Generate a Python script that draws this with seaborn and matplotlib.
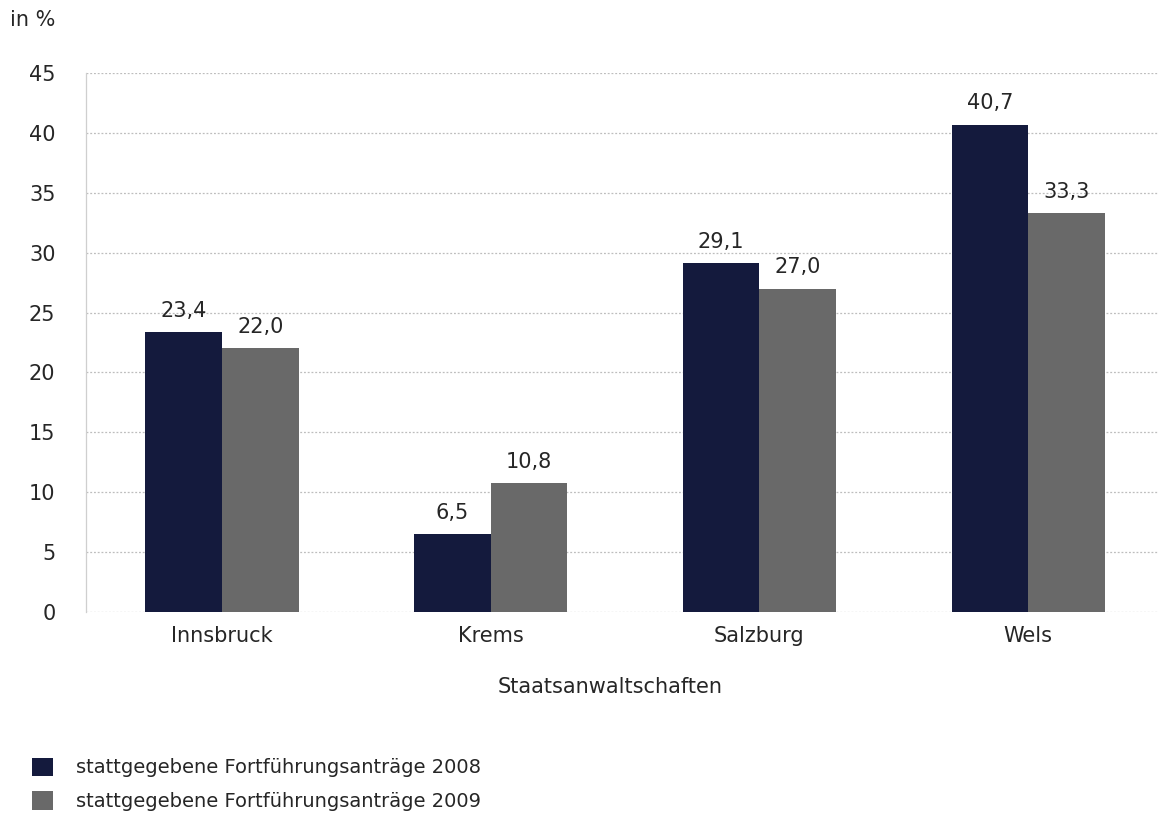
import matplotlib
matplotlib.use("Agg")
import matplotlib.pyplot as plt
from matplotlib.patches import Patch
import seaborn as sns
import pandas as pd

categories = ["Innsbruck", "Krems", "Salzburg", "Wels"]
values_2008 = [23.4, 6.5, 29.1, 40.7]
values_2009 = [22.0, 10.8, 27.0, 33.3]
series_labels = ["stattgegebene Fortführungsanträge 2008",
                 "stattgegebene Fortführungsanträge 2009"]
y_ticks = [0, 5, 10, 15, 20, 25, 30, 35, 40, 45]

df = pd.DataFrame({
    "Staatsanwaltschaft": categories * 2,
    "Wert": values_2008 + values_2009,
    "Serie": [series_labels[0]] * 4 + [series_labels[1]] * 4,
})

sns.set_theme(style="white")
plt.rcParams["font.family"] = ["DejaVu Sans"]
text_color = "#262626"
colors = ["#141a3d", "#696969"]

fig = plt.figure(figsize=(11.59, 8.19), dpi=100)
ax = fig.add_axes([86 / 1159, 1 - 612 / 819, (1159 - 86) / 1159, (612 - 73) / 819])

sns.barplot(data=df, x="Staatsanwaltschaft", y="Wert", hue="Serie",
            palette=colors, width=0.57, saturation=1, ax=ax, legend=False,
            linewidth=0)

ax.set_xlim(-0.506, 3.487)
ax.set_ylim(0, 45)
ax.set_yticks(y_ticks)
ax.set_yticklabels([str(t) for t in y_ticks])
ax.yaxis.grid(True, linestyle=(0, (1.5, 1.5)), color="#bdbdbd", linewidth=0.9)
ax.set_axisbelow(True)
for s in ["top", "right", "bottom"]:
    ax.spines[s].set_visible(False)
ax.spines["left"].set_color("#cfcfcf")
ax.spines["left"].set_linewidth(0.9)
ax.tick_params(axis="both", length=0, labelsize=15, colors=text_color, pad=10)
ax.tick_params(axis="y", pad=22)
ax.set_xlabel("")
ax.set_ylabel("")

for container in ax.containers:
    labels = [f"{v:.1f}".replace(".", ",") for v in container.datavalues]
    ax.bar_label(container, labels=labels, padding=8, fontsize=15, color=text_color)

fig.text(10 / 1159, 1 - 20 / 819, "in %", fontsize=15, color=text_color, va="center")
fig.text(610 / 1159, 1 - 687 / 819, "Staatsanwaltschaften", fontsize=15,
         color=text_color, ha="center", va="center")

handles = [Patch(facecolor=c, edgecolor="none") for c in colors]
fig.legend(handles, series_labels, loc="upper left",
           bbox_to_anchor=(14 / 1159, 1 - 740 / 819), frameon=False,
           fontsize=14, labelcolor=text_color, handlelength=1.1, handleheight=1.1,
           handletextpad=1.2, labelspacing=0.7)

fig.savefig("out.png", dpi=100, facecolor="white")
